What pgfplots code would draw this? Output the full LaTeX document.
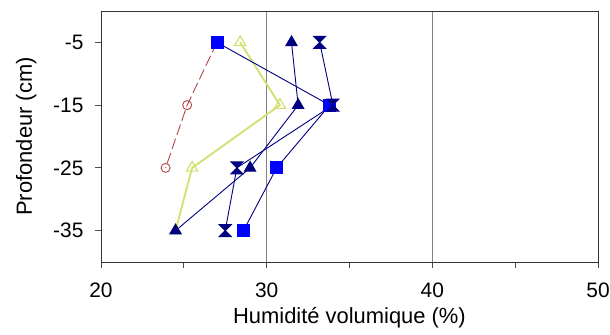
\documentclass[border=0pt]{standalone}
\usepackage{fontspec}
\setmainfont{Liberation Sans}
\usepackage{pgfplots}
\pgfplotsset{compat=1.18}
\definecolor{navy}{RGB}{0,0,128}
\definecolor{bluesq}{RGB}{0,0,255}
\definecolor{yel}{RGB}{212,224,110}
\definecolor{redd}{RGB}{175,70,70}
\definecolor{gridc}{RGB}{130,130,130}
\pgfdeclareplotmark{hourglass}{%
  \pgfpathmoveto{\pgfqpoint{-\pgfplotmarksize}{\pgfplotmarksize}}%
  \pgfpathlineto{\pgfqpoint{\pgfplotmarksize}{\pgfplotmarksize}}%
  \pgfpathlineto{\pgfqpoint{-\pgfplotmarksize}{-\pgfplotmarksize}}%
  \pgfpathlineto{\pgfqpoint{\pgfplotmarksize}{-\pgfplotmarksize}}%
  \pgfpathclose
  \pgfusepathqfillstroke}
\begin{document}
\begin{tikzpicture}
\useasboundingbox (-101bp,-73bp) rectangle (509bp,262bp);
\begin{axis}[
  scale only axis, width=497bp, height=251bp,
  xmin=20, xmax=50, ymin=-40, ymax=0,
  xtick={20,30,40,50}, minor xtick={25,35,45},
  ytick={-35,-25,-15,-5},
  xtick pos=bottom, ytick pos=left,
  tick align=outside,
  major tick length=6bp, minor tick length=6bp,
  xmajorgrids, grid style={gridc, line width=0.8bp},
  axis line style={black!80, line width=0.9bp},
  tick style={black!70, line width=0.8bp},
  /pgf/number format/assume math mode=true,
  tick label style={font=\fontsize{21}{25}\selectfont},
  label style={font=\fontsize{22}{26}\selectfont},
  xlabel={Humidité volumique (\%)},
  ylabel={Profondeur (cm)},
  xticklabel style={yshift=-11bp},
  yticklabel style={xshift=-8bp},
  xlabel style={yshift=-3bp},
  ylabel style={yshift=10bp},
]
% yellow series
\addplot[color=yel, line width=1.8bp, mark=triangle, mark size=6.5bp,
  mark options={solid, fill=white, line width=1.2bp}]
  coordinates {(28.4,-5) (30.8,-15) (25.5,-25) (24.5,-35)};
% red dashed series
\addplot[color=redd, line width=0.9bp, dash pattern=on 11bp off 4bp, mark=o, mark size=4.5bp,
  mark options={solid, fill=white, line width=0.9bp}]
  coordinates {(27.0,-5) (25.2,-15) (23.9,-25)};
% squares
\addplot[color=navy, line width=0.9bp, mark=square*, mark size=6bp,
  mark options={draw=bluesq, fill=bluesq}]
  coordinates {(27.0,-5) (33.8,-15) (30.6,-25) (28.6,-35)};
% triangles
\addplot[color=navy, line width=0.9bp, mark=triangle*, mark size=6.5bp,
  mark options={draw=navy, fill=navy}]
  coordinates {(31.5,-5) (31.9,-15) (29.0,-25) (24.5,-35)};
% hourglass
\addplot[color=navy, line width=0.9bp, mark=hourglass, mark size=6bp,
  mark options={draw=navy, fill=navy}]
  coordinates {(33.2,-5) (34.0,-15) (28.2,-25) (27.5,-35)};
\end{axis}
\end{tikzpicture}
\end{document}
